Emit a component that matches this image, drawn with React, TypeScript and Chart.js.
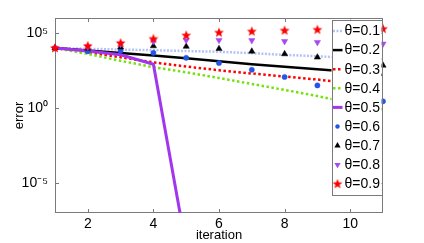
import React, { useEffect, useRef } from 'react';
import { Chart, registerables } from 'chart.js';

Chart.register(...registerables);

// ---- data ----
const iterations = [1, 2, 3, 4, 5, 6, 7, 8, 9, 10, 11];
const theta01 = [1.0e4, 8.9e3, 7.9e3, 7.1e3, 6.3e3, 5.6e3, 4.5e3, 3.5e3, 2.8e3, 2.2e3, 1.8e3];
const theta02 = [1.0e4, 6.8e3, 4.7e3, 3.2e3, 2.1e3, 1.3e3, 830, 560, 380, 260, 160];
const theta03 = [1.0e4, 5.2e3, 2.4e3, 1.1e3, 580, 330, 200, 126, 79, 45, 25];
const theta04 = [1.0e4, 4.0e3, 1.4e3, 525, 240, 100, 40, 16, 6.3, 2.2, 0.71];
const theta05 = [1.0e4, 6.3e3, 3.5e3, 830, 5e-10];
const theta06 = [1.0e4, 6.0e3, 6.6e3, 4.8e3, 2.2e3, 1.0e3, 355, 117, 32, 9.5, 2.8];
const theta07 = [1.0e4, 9.5e3, 1.12e4, 1.35e4, 1.26e4, 8.9e3, 6.0e3, 4.0e3, 2.4e3, 1.3e3, 690];
const theta08 = [1.0e4, 1.2e4, 1.8e4, 2.8e4, 3.3e4, 3.3e4, 3.2e4, 2.8e4, 2.4e4, 2.1e4, 1.9e4];
const theta09 = [1.0e4, 1.4e4, 2.2e4, 4.2e4, 7.1e4, 1.1e5, 1.3e5, 1.5e5, 1.7e5, 1.9e5, 1.95e5];
const legendLabels = ['θ=0.1', 'θ=0.2', 'θ=0.3', 'θ=0.4', 'θ=0.5', 'θ=0.6', 'θ=0.7', 'θ=0.8', 'θ=0.9'];
const xTicks = [2, 4, 6, 8, 10];
const yTicks = [1e-5, 1, 1e5];
const yTickLabels = ['10⁻⁵', '10⁰', '10⁵'];
const xTitle = 'iteration';
const yTitle = 'error';

const FONT = '"Liberation Sans", Arial, Helvetica, sans-serif';

function makeStar(color: string): HTMLCanvasElement {
  const c = document.createElement('canvas');
  c.width = 12;
  c.height = 12;
  const g = c.getContext('2d')!;
  const cx = 6, cy = 6.3, ro = 5.2, ri = 2.2;
  g.beginPath();
  for (let i = 0; i < 10; i++) {
    const r = i % 2 === 0 ? ro : ri;
    const a = -Math.PI / 2 + (i * Math.PI) / 5;
    const px = cx + r * Math.cos(a);
    const py = cy + r * Math.sin(a);
    if (i === 0) g.moveTo(px, py);
    else g.lineTo(px, py);
  }
  g.closePath();
  g.fillStyle = color;
  g.fill();
  return c;
}

export default function App() {
  const ref = useRef<HTMLCanvasElement>(null);

  useEffect(() => {
    document.body.style.margin = '0';
    const star = makeStar('#ff0000');
    const pts = (arr: number[]) => arr.map((v, i) => ({ x: iterations[i], y: v }));

    const lineDs = (label: string, data: number[], color: string, width: number, dash: number[], order: number) => ({
      label,
      data: pts(data),
      borderColor: color,
      backgroundColor: color,
      borderWidth: width,
      borderDash: dash,
      borderCapStyle: 'butt',
      pointRadius: 0,
      showLine: true,
      fill: false,
      tension: 0,
      order,
    });
    const markDs = (label: string, data: number[], color: string, style: any, radius: number, rotation: number, order: number) => ({
      label,
      data: pts(data),
      borderColor: color,
      backgroundColor: color,
      borderWidth: 0.5,
      pointStyle: style,
      pointRadius: radius,
      pointRotation: rotation,
      showLine: false,
      clip: false,
      order,
    });

    const datasets: any[] = [
      lineDs(legendLabels[0], theta01, '#b4c2f6', 2.5, [2, 1.5], 9),
      lineDs(legendLabels[1], theta02, '#000000', 2.5, [], 8),
      lineDs(legendLabels[2], theta03, '#ff0000', 2.5, [2.5, 2.5], 7),
      lineDs(legendLabels[3], theta04, '#77e010', 2.5, [2.5, 2.5], 6),
      lineDs(legendLabels[4], theta05, '#a236ee', 3, [], 5),
      markDs(legendLabels[5], theta06, '#2455e6', 'circle', 2.6, 0, 4),
      markDs(legendLabels[6], theta07, '#000000', 'triangle', 3.6, 0, 3),
      markDs(legendLabels[7], theta08, '#a848f2', 'triangle', 3.6, 180, 2),
      markDs(legendLabels[8], theta09, '#ff0000', star, 5, 0, 1),
    ];

    const boxPlugin = {
      id: 'axisBox',
      beforeDatasetsDraw(chart: any) {
        const { ctx, chartArea: a, scales } = chart;
        ctx.save();
        ctx.strokeStyle = '#7a7a7a';
        ctx.lineWidth = 1;
        ctx.strokeRect(a.left + 0.5, a.top + 0.5, a.right - a.left - 1, a.bottom - a.top - 1);
        const tl = 4;
        ctx.beginPath();
        for (const v of xTicks) {
          const px = Math.round(scales.x.getPixelForValue(v)) + 0.5;
          ctx.moveTo(px, a.bottom);
          ctx.lineTo(px, a.bottom - tl);
          ctx.moveTo(px, a.top);
          ctx.lineTo(px, a.top + tl);
        }
        for (const v of yTicks) {
          const py = Math.round(scales.y.getPixelForValue(v)) + 0.5;
          ctx.moveTo(a.left, py);
          ctx.lineTo(a.left + tl, py);
          ctx.moveTo(a.right, py);
          ctx.lineTo(a.right - tl, py);
        }
        ctx.stroke();
        ctx.restore();
      },
    };

    const legendPlugin = {
      id: 'insideLegend',
      afterDatasetsDraw(chart: any) {
        const { ctx, chartArea: a } = chart;
        const w = 50;
        const h = 175;
        const left = a.right - w - 1.5;
        const top = a.top + 1.5;
        ctx.save();
        ctx.fillStyle = '#ffffff';
        ctx.fillRect(left, top, w, h);
        ctx.strokeStyle = '#7a7a7a';
        ctx.lineWidth = 1;
        ctx.strokeRect(Math.round(left) + 0.5, Math.round(top) + 0.5, w, h);
        const rowH = 19.1;
        chart.data.datasets.forEach((ds: any, i: number) => {
          const cy = top + 11.5 + i * rowH;
          const sx = left + 1.5;
          const ex = left + 11;
          const mx = left + 6;
          if (ds.showLine) {
            ctx.save();
            ctx.strokeStyle = ds.borderColor;
            ctx.lineWidth = ds.borderWidth;
            ctx.setLineDash(ds.borderDash || []);
            ctx.beginPath();
            ctx.moveTo(sx, cy);
            ctx.lineTo(ex, cy);
            ctx.stroke();
            ctx.restore();
          } else {
            ctx.fillStyle = ds.backgroundColor;
            if (ds.pointStyle === 'circle') {
              ctx.beginPath();
              ctx.arc(mx, cy, 2.2, 0, Math.PI * 2);
              ctx.fill();
            } else if (ds.pointStyle === 'triangle') {
              const r = 3.6;
              const dir = ds.pointRotation === 180 ? -1 : 1;
              ctx.beginPath();
              ctx.moveTo(mx, cy - dir * r);
              ctx.lineTo(mx + r * 0.866, cy + dir * r * 0.5);
              ctx.lineTo(mx - r * 0.866, cy + dir * r * 0.5);
              ctx.closePath();
              ctx.fill();
            } else {
              const img = ds.pointStyle as HTMLCanvasElement;
              ctx.drawImage(img, mx - img.width / 2, cy - img.height / 2);
            }
          }
          ctx.fillStyle = '#000000';
          ctx.font = `14px ${FONT}`;
          ctx.textAlign = 'left';
          ctx.textBaseline = 'middle';
          ctx.fillText(ds.label, left + 13, cy + 0.5);
        });
        ctx.restore();
      },
    };

    const chart = new Chart(ref.current!, {
      type: 'line',
      data: { datasets },
      options: {
        animation: false,
        responsive: false,
        devicePixelRatio: 1,
        layout: { padding: { left: 0, top: 18, right: 41, bottom: 0 } },
        plugins: { legend: { display: false }, tooltip: { enabled: false } },
        scales: {
          x: {
            type: 'linear',
            min: 1,
            max: 11,
            grid: { display: false, drawTicks: false },
            border: { display: false },
            afterBuildTicks: (s: any) => {
              s.ticks = xTicks.map((v) => ({ value: v }));
            },
            afterFit: (s: any) => {
              s.height = 30;
            },
            ticks: {
              padding: 3,
              color: '#000',
              font: { family: FONT, size: 14 },
              maxRotation: 0,
              autoSkip: false,
            },
            title: {
              display: true,
              text: xTitle,
              color: '#000',
              font: { family: FONT, size: 13 },
              padding: 0,
            },
          },
          y: {
            type: 'logarithmic',
            min: 1e-7,
            max: 1e6,
            grid: { display: false, drawTicks: false },
            border: { display: false },
            afterBuildTicks: (s: any) => {
              s.ticks = yTicks.map((v) => ({ value: v }));
            },
            afterFit: (s: any) => {
              s.width = 55;
            },
            ticks: {
              padding: 7,
              color: '#000',
              font: { family: FONT, size: 14 },
              autoSkip: false,
              callback: (v: any) => {
                const idx = yTicks.indexOf(Number(v));
                return idx >= 0 ? yTickLabels[idx] : '';
              },
            },
            title: {
              display: true,
              text: yTitle,
              color: '#000',
              font: { family: FONT, size: 13 },
              padding: { top: 12, bottom: 0 },
            },
          },
        },
      },
      plugins: [boxPlugin, legendPlugin],
    } as any);

    return () => chart.destroy();
  }, []);

  return (
    <div style={{ width: 424, height: 243 }}>
      <canvas ref={ref} width={424} height={243} style={{ display: 'block' }} />
    </div>
  );
}
